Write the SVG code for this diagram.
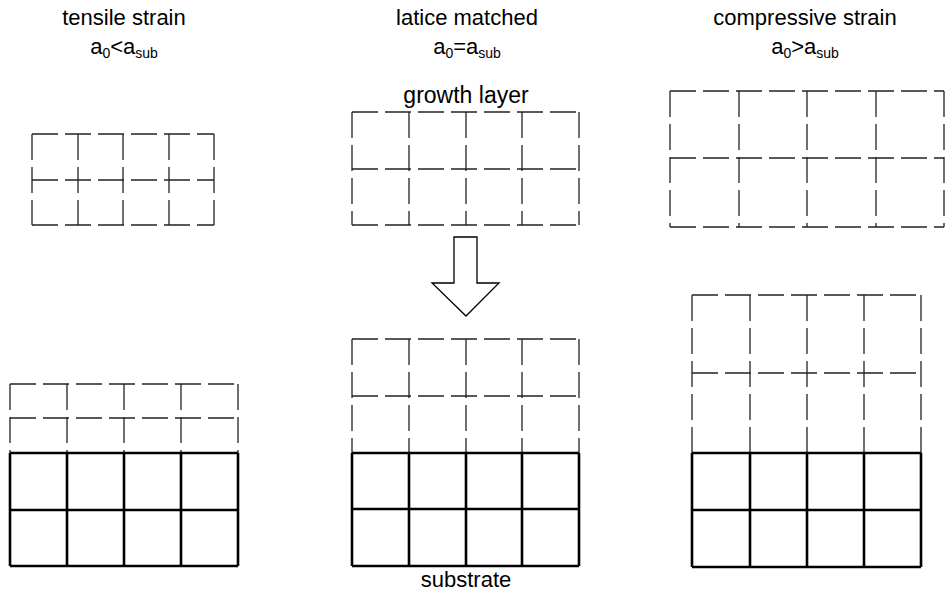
<svg xmlns="http://www.w3.org/2000/svg" width="951" height="596" viewBox="0 0 951 596">
<style>
text{font-family:"Liberation Sans",Arial,sans-serif;fill:#000;text-anchor:middle}
.h{font-size:22px}
.sub{font-size:14px}
.d{fill:none;stroke:#222;stroke-width:1.3;stroke-dasharray:26 7}
.s{fill:none;stroke:#000;stroke-width:2.6}
.arrow{fill:#fff;stroke:#000;stroke-width:1.3}
</style>
<rect width="951" height="596" fill="#fff"/>
<g id="header-tensile">
<text class="h" x="124" y="25">tensile strain</text>
<text class="h" x="124" y="54">a<tspan class="sub" dy="4">0</tspan><tspan dy="-4">&lt;a</tspan><tspan class="sub" dy="4">sub</tspan></text>
</g>
<g id="header-matched">
<text class="h" x="467" y="25">latice matched</text>
<text class="h" x="467" y="54">a<tspan class="sub" dy="4">0</tspan><tspan dy="-4">=a</tspan><tspan class="sub" dy="4">sub</tspan></text>
</g>
<g id="header-compressive">
<text class="h" x="805" y="25">compressive strain</text>
<text class="h" x="805" y="54">a<tspan class="sub" dy="4">0</tspan><tspan dy="-4">&gt;a</tspan><tspan class="sub" dy="4">sub</tspan></text>
</g>
<g id="tensile-free">
<path class="d" d="M32,134H214M32,180H214M32,225H214M32,134V225M78,134V225M123,134V225M169,134V225M214,134V225"/>
</g>
<g id="matched-free">
<text class="h" x="466" y="103" style="font-size:23px">growth layer</text>
<path class="d" d="M352,112H579M352,169H579M352,225H579M352,112V225M409,112V225M466,112V225M522,112V225M579,112V225"/>
</g>
<g id="compressive-free">
<path class="d" d="M670,91H944M670,158H944M670,227H944M670,91V227M739,91V227M807,91V227M876,91V227M944,91V227"/>
</g>
<g id="tensile-grown">
<path class="d" d="M10,384H238M10,418H238M10,384V453M67,384V453M124,384V453M181,384V453M238,384V453"/>
<path class="s" d="M10,453H238M10,510H238M10,566H238M10,453V566M67,453V566M124,453V566M181,453V566M238,453V566"/>
</g>
<g id="matched-grown">
<path class="d" d="M352,339H579M352,396H579M352,339V453M409,339V453M466,339V453M522,339V453M579,339V453"/>
<path class="s" d="M352,453H579M352,509H579M352,566H579M352,453V566M409,453V566M466,453V566M522,453V566M579,453V566"/>
<text class="h" x="466" y="587">substrate</text>
</g>
<g id="compressive-grown">
<path class="d" d="M692,295H921M692,373H921M692,295V453M750,295V453M807,295V453M864,295V453M921,295V453"/>
<path class="s" d="M692,453H921M692,510H921M692,567H921M692,453V567M750,453V567M807,453V567M864,453V567M921,453V567"/>
</g>
<g id="connectors">
<path class="arrow" d="M454,237H477V283H499L466,316L432,283H454Z"/>
</g>
</svg>
